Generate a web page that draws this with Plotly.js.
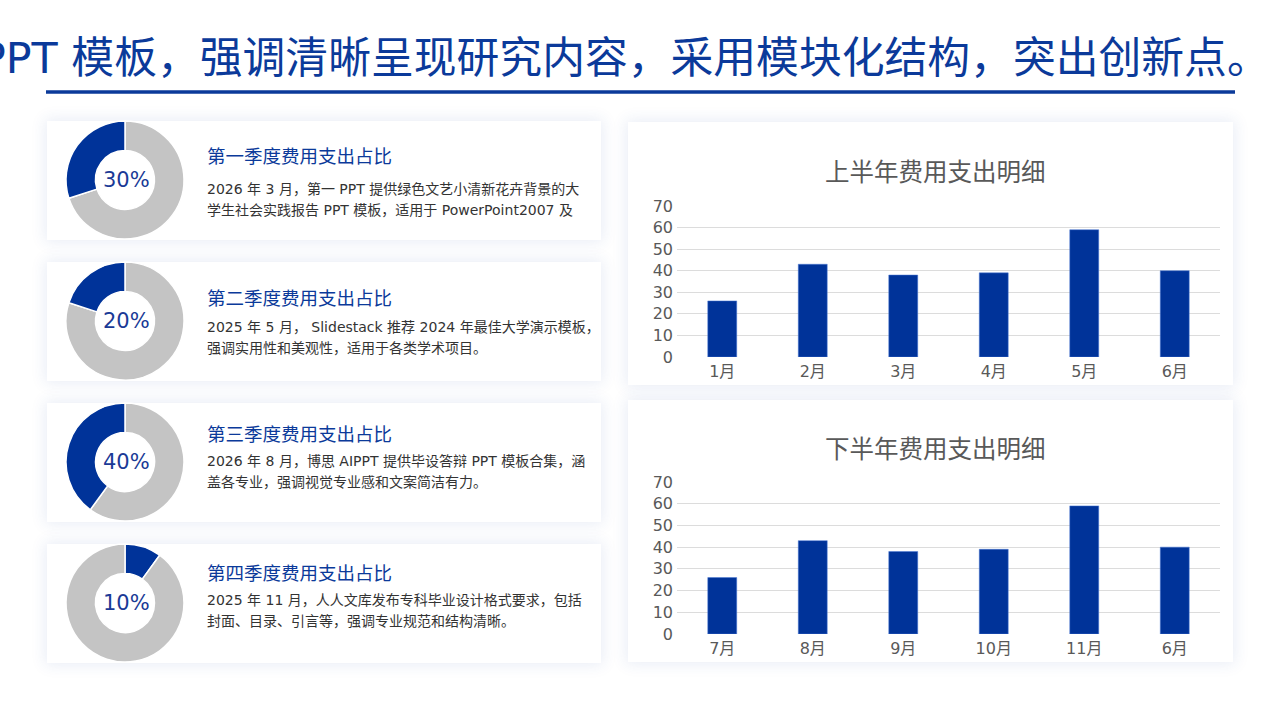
<!DOCTYPE html>
<html>
<head>
<meta charset="utf-8">
<script src="https://cdn.plot.ly/plotly-3.0.1.min.js"></script>
<style>
  html, body { margin:0; padding:0; background:#ffffff; width:1280px; height:719px; overflow:hidden; }
  .card { position:absolute; background:#ffffff; box-shadow:0 0 14px 2px rgba(40,80,170,0.10); }
  #chart { position:absolute; left:0; top:0; width:1280px; height:719px; }
</style>
</head>
<body>
<div class="card" style="left:47px;top:121px;width:554px;height:119px;"></div>
<div class="card" style="left:47px;top:262px;width:554px;height:119px;"></div>
<div class="card" style="left:47px;top:403px;width:554px;height:119px;"></div>
<div class="card" style="left:47px;top:544px;width:554px;height:119px;"></div>
<div class="card" style="left:628px;top:122px;width:605px;height:263px;"></div>
<div class="card" style="left:628px;top:400px;width:605px;height:262px;"></div>
<div id="chart"></div>
<script>
// ---------- data ----------
const pageTitle = "PPT 模板，强调清晰呈现研究内容，采用模块化结构，突出创新点。";
const quarterTitles = ["第一季度费用支出占比", "第二季度费用支出占比", "第三季度费用支出占比", "第四季度费用支出占比"];
const quarterShares = [30, 20, 40, 10];
const quarterLabels = ["30%", "20%", "40%", "10%"];
const quarterText1 = [
  "2026 年 3 月，第一 PPT 提供绿色文艺小清新花卉背景的大",
  "2025 年 5 月， Slidestack 推荐 2024 年最佳大学演示模板，",
  "2026 年 8 月，博思 AIPPT 提供毕设答辩 PPT 模板合集，涵",
  "2025 年 11 月，人人文库发布专科毕业设计格式要求，包括"
];
const quarterText2 = [
  "学生社会实践报告 PPT 模板，适用于 PowerPoint2007 及",
  "强调实用性和美观性，适用于各类学术项目。",
  "盖各专业，强调视觉专业感和文案简洁有力。",
  "封面、目录、引言等，强调专业规范和结构清晰。"
];
const h1Title = "上半年费用支出明细";
const h1Months = ["1月", "2月", "3月", "4月", "5月", "6月"];
const h1Values = [26, 43, 38, 39, 59, 40];
const h2Title = "下半年费用支出明细";
const h2Months = ["7月", "8月", "9月", "10月", "11月", "6月"];
const h2Values = [26, 43, 38, 39, 59, 40];

// ---------- helpers ----------
const W = 1280, H = 719;
const px = x => x / W;
const py = y => 1 - y / H;
const BLUE = "#003399";
const GRAY = "#c4c4c4";
const FONT = "DejaVu Sans, Noto Sans CJK SC, sans-serif";
const CJKFONT = "Noto Sans CJK SC, sans-serif";

const donutCenters = [180, 321, 462, 603];
const titleY = [155, 297, 433, 572];
const bodyY = [189, 327, 461, 600];
// true: highlighted slice sits left of 12 o'clock; false: right of it
const blueOnLeft = [true, true, true, false];

const traces = [];
const annotations = [];

quarterShares.forEach((s, i) => {
  const cy = donutCenters[i], r = 59;
  const vals = blueOnLeft[i] ? [100 - s, s] : [s, 100 - s];
  const cols = blueOnLeft[i] ? [GRAY, BLUE] : [BLUE, GRAY];
  traces.push({
    type: "pie",
    values: vals,
    marker: { colors: cols, line: { color: "#ffffff", width: 1.5 } },
    hole: 0.5,
    sort: false,
    direction: "clockwise",
    rotation: 0,
    textinfo: "none",
    hoverinfo: "none",
    showlegend: false,
    domain: { x: [px(125 - r), px(125 + r)], y: [py(cy + r), py(cy - r)] }
  });
  annotations.push({
    xref: "paper", yref: "paper", x: px(126), y: py(cy),
    text: quarterLabels[i], showarrow: false, xanchor: "center", yanchor: "middle",
    font: { family: FONT, size: 21, color: "#1a3a96" }
  });
  annotations.push({
    xref: "paper", yref: "paper", x: px(205), y: py(titleY[i]),
    text: quarterTitles[i], showarrow: false, xanchor: "left", yanchor: "middle",
    font: { family: CJKFONT, size: 18.5, color: "#0b3a9a" }
  });
  annotations.push({
    xref: "paper", yref: "paper", x: px(205), y: py(bodyY[i]),
    text: quarterText1[i], showarrow: false, xanchor: "left", yanchor: "middle",
    font: { family: FONT, size: 14, color: "#333333" }
  });
  annotations.push({
    xref: "paper", yref: "paper", x: px(205), y: py(bodyY[i] + 21),
    text: quarterText2[i], showarrow: false, xanchor: "left", yanchor: "middle",
    font: { family: FONT, size: 14, color: "#333333" }
  });
});

traces.push({
  type: "bar", x: h1Months, y: h1Values, xaxis: "x", yaxis: "y",
  marker: { color: BLUE, line: { color: "#4d7bd6", width: 0.5 } },
  hoverinfo: "none", showlegend: false
});
traces.push({
  type: "bar", x: h2Months, y: h2Values, xaxis: "x2", yaxis: "y2",
  marker: { color: BLUE, line: { color: "#4d7bd6", width: 0.5 } },
  hoverinfo: "none", showlegend: false
});

annotations.push({
  xref: "paper", yref: "paper", x: px(935), y: py(170), text: h1Title, showarrow: false,
  xanchor: "center", yanchor: "middle", font: { family: CJKFONT, size: 24.5, color: "#595959" }
});
annotations.push({
  xref: "paper", yref: "paper", x: px(935), y: py(447), text: h2Title, showarrow: false,
  xanchor: "center", yanchor: "middle", font: { family: CJKFONT, size: 24.5, color: "#595959" }
});
annotations.push({
  xref: "paper", yref: "paper", x: px(1272), y: py(57.5), text: pageTitle, showarrow: false,
  xanchor: "right", yanchor: "middle", font: { family: FONT, size: 42.8, color: "#0b3a9a" }
});

const xaxisBase = {
  type: "category", showgrid: false, zeroline: false, showline: false, ticks: "",
  ticklabelstandoff: 3,
  tickfont: { family: FONT, size: 16, color: "#595959" }, fixedrange: true
};
const yaxisBase = {
  range: [0, 70], dtick: 10, showgrid: true, gridcolor: "#dcdcdc", gridwidth: 1,
  zeroline: false, showline: false, ticks: "", ticklen: 0, ticklabelstandoff: 3,
  tickfont: { family: FONT, size: 16, color: "#595959" }, fixedrange: true
};

const layout = {
  width: W, height: H,
  margin: { l: 0, r: 0, t: 0, b: 0 },
  paper_bgcolor: "rgba(0,0,0,0)",
  plot_bgcolor: "rgba(0,0,0,0)",
  bargap: 0.68,
  xaxis: Object.assign({}, xaxisBase, { domain: [px(677), px(1220)], anchor: "y" }),
  yaxis: Object.assign({}, yaxisBase, { domain: [py(357), py(206)], anchor: "x" }),
  xaxis2: Object.assign({}, xaxisBase, { domain: [px(677), px(1220)], anchor: "y2" }),
  yaxis2: Object.assign({}, yaxisBase, { domain: [py(634), py(482)], anchor: "x2" }),
  annotations: annotations,
  shapes: [{
    type: "line", xref: "paper", yref: "paper",
    x0: px(46), x1: px(1235), y0: py(92), y1: py(92),
    line: { color: "#0b3a9a", width: 3.5 }
  }]
};

Plotly.newPlot("chart", traces, layout, { displayModeBar: false, staticPlot: true });
</script>
</body>
</html>
